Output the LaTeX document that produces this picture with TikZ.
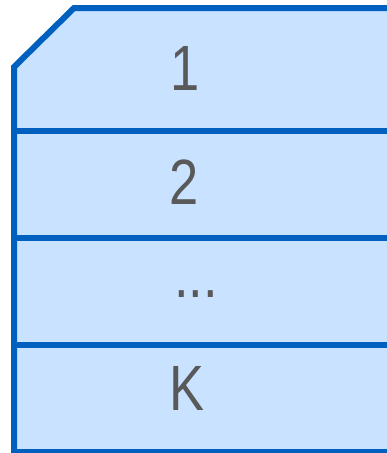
\documentclass[tikz,border=0pt]{standalone}
\usepackage{fontspec}
\usepackage{graphicx}
\setmainfont{Liberation Sans}
\definecolor{cellfill}{RGB}{200,226,255}
\definecolor{cellline}{RGB}{0,96,192}
\definecolor{textgrey}{RGB}{89,89,89}
\newcommand{\narrowtxt}[1]{\scalebox{0.82}[1]{#1}}
\begin{document}
\begin{tikzpicture}[x=1pt,y=-1pt,
  cellline/.style={draw=cellline,line width=6pt},
  label/.style={text=textgrey,font=\fontsize{64}{64}\selectfont,anchor=base,inner sep=0pt}]
\useasboundingbox (0,0) rectangle (387,453);
\clip (0,0) rectangle (387,453);
\path[cellline,fill=cellfill,line join=miter]
  (440,452) -- (14,452) -- (14,67) -- (74,8) -- (440,8) -- cycle;
\draw[cellline] (14,131) -- (440,131);
\draw[cellline] (14,238) -- (440,238);
\draw[cellline] (14,345) -- (440,345);
\node[label] (one) at (185,90) {\narrowtxt{1}};
\node[label] (two) at (184,204) {\narrowtxt{2}};
\node[label] (dots) at (196,297) {\narrowtxt{...}};
\node[label] (k) at (187,410) {\narrowtxt{K}};
\end{tikzpicture}
\end{document}
